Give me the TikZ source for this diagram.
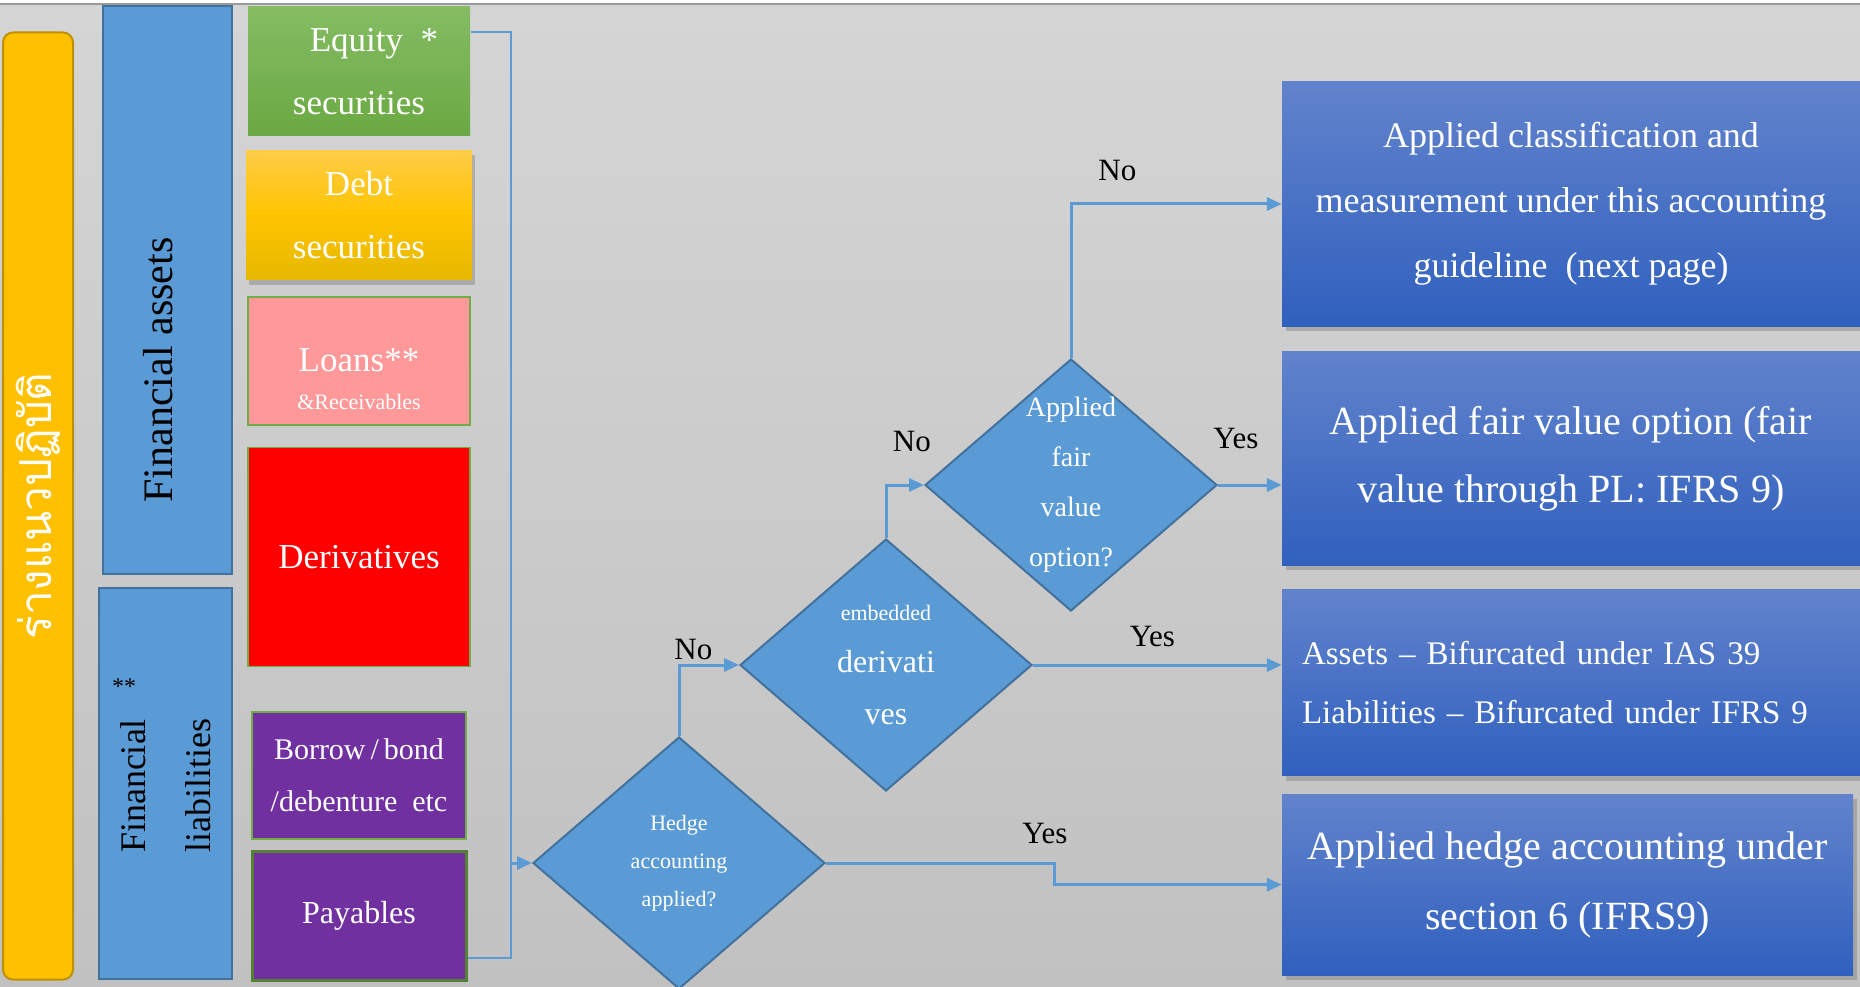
\documentclass[tikz,border=0pt]{standalone}
\usepackage{fontspec}
\setmainfont{Liberation Serif}
\newfontfamily\thaifont[Script=Thai]{Loma}
\usetikzlibrary{shapes.geometric, arrows.meta, positioning, shadows}

\definecolor{bgtop}{RGB}{213,213,213}
\definecolor{bgbot}{RGB}{193,193,193}
\definecolor{thaiyellow}{RGB}{255,192,0}
\definecolor{thaiedge}{RGB}{191,144,0}
\definecolor{catblue}{RGB}{91,155,213}
\definecolor{catedge}{RGB}{65,113,156}
\definecolor{eqtop}{RGB}{133,188,99}
\definecolor{eqbot}{RGB}{106,169,67}
\definecolor{debttop}{RGB}{255,204,72}
\definecolor{debtmid}{RGB}{255,196,0}
\definecolor{debtbot}{RGB}{230,184,0}
\definecolor{loanpink}{RGB}{255,153,153}
\definecolor{boxgreen}{RGB}{112,173,71}
\definecolor{paygreen}{RGB}{84,130,53}
\definecolor{liabpurple}{RGB}{112,48,160}
\definecolor{restop}{RGB}{98,131,204}
\definecolor{resbot}{RGB}{48,96,190}
\definecolor{flowblue}{RGB}{91,155,213}

\begin{document}
\begin{tikzpicture}[x=1pt, y=-1pt,
    catbox/.style={rectangle, draw=catedge, line width=2pt, fill=catblue, inner sep=0pt},
    assetbox/.style={rectangle, draw=boxgreen, line width=1.5pt, minimum width=222pt, text=white, align=center, inner sep=0pt, font=\fontsize{35}{63}\selectfont},
    decision/.style={diamond, draw=catedge, line width=2pt, fill=catblue, minimum width=292pt, minimum height=252pt, inner sep=-30pt, text=white, align=center},
    outcome/.style={rectangle, top color=restop, bottom color=resbot, text=white, align=center, inner sep=0pt, drop shadow={shadow xshift=4pt, shadow yshift=-5pt, opacity=0.45}},
    flow/.style={draw=flowblue, line width=3pt, -{Triangle[length=15pt, width=13pt]}},
    answer/.style={text=black, inner sep=0pt, font=\fontsize{31}{31}\selectfont}]

% Background
\useasboundingbox (0,0) rectangle (1860,987);
\fill [white] (0,0) rectangle (1860,987);
\fill [top color=bgtop, bottom color=bgbot] (0,5) rectangle (1860,987);
\draw [gray!80, line width=1.5pt] (0,4) -- (1860,4);

% Side labels
\node [rectangle, rounded corners=10pt, draw=thaiedge, line width=2pt, fill=thaiyellow, minimum width=947pt, minimum height=70pt, rotate=90, text=white, font=\thaifont\fontsize{44}{44}\selectfont] (draft) at (38,506) {ร่างแนวปฏิบัติ};
\node [catbox, minimum width=129pt, minimum height=568pt] (assets) at (167.5,290) {};
\node [rotate=90, inner sep=0pt, font=\fontsize{42}{42}\selectfont] (assetsname) at (158,370) {Financial assets};
\node [catbox, minimum width=133pt, minimum height=391pt] (liabs) at (165.5,783.5) {};
\node [rotate=90, align=left, inner sep=0pt, font=\fontsize{36}{65}\selectfont] (liabsname) at (166,786) {Financial\\liabilities};
\node [inner sep=0pt, font=\fontsize{24}{24}\selectfont] (liabsnote) at (124,687) {**};

% Instruments
\node [assetbox, draw=none, top color=eqtop, bottom color=eqbot, minimum height=129pt] (equity) at (359,71.5) {\hspace*{30pt}Equity~~*\\securities};
\node [assetbox, draw=none, top color=debttop, bottom color=debtbot, middle color=debtmid, minimum width=226pt, minimum height=129pt, drop shadow={shadow xshift=3pt, shadow yshift=-5pt, opacity=0.45}, below=13pt of equity] (debt) {Debt\\securities};
\node [assetbox, fill=loanpink, minimum height=128pt, below=16pt of debt] (loans) {\rule{0pt}{60pt}Loans**\\[-25pt]{\fontsize{22}{22}\selectfont\&Receivables}};
\node [assetbox, fill=red, minimum height=219pt, below=21pt of loans] (deriv) {Derivatives};
\node [assetbox, fill=liabpurple, minimum width=214pt, minimum height=127pt, below=44pt of deriv, font=\fontsize{30}{52}\selectfont] (borrow) {Borrow\,/\,bond\\/debenture~~etc};
\node [assetbox, draw=paygreen, line width=3pt, fill=liabpurple, minimum width=214pt, minimum height=129pt, below=10pt of borrow, font=\fontsize{32}{32}\selectfont] (payables) {Payables};

% Decisions
\node [decision, font=\fontsize{22}{38}\selectfont] (hedge) at (679,863) {Hedge\\accounting\\applied?};
\node [decision, font=\fontsize{32}{52}\selectfont] (embedded) at (886,665) {{\fontsize{22}{22}\selectfont embedded}\\derivati\\ves};
\node [decision, font=\fontsize{28}{50}\selectfont] (fvo) at (1071,485) {Applied\\fair\\value\\option?};

% Results
\node [outcome, minimum width=578pt, minimum height=244pt, font=\fontsize{36}{65}\selectfont] (classify) at (1571,204) {Applied classification and\\measurement under this accounting\\guideline~~(next page)};
\node [outcome, minimum width=578pt, minimum height=214pt, below=25pt of classify, font=\fontsize{40}{68}\selectfont] (fairvalue) {Applied fair value option (fair\\value through PL: IFRS 9)};
\node [outcome, minimum width=578pt, minimum height=186pt, below=24pt of fairvalue, text width=538pt, align=left, font=\fontsize{33}{59}\selectfont] (bifurcate) {Assets -- Bifurcated under IAS 39\\Liabilities -- Bifurcated under IFRS 9};
\node [outcome, minimum width=571pt, minimum height=181pt, below=18pt of bifurcate.south west, anchor=north west, font=\fontsize{40}{70}\selectfont] (hedgeres) {Applied hedge accounting under\\section 6 (IFRS9)};

% Connectors
\coordinate (brtop) at (511,32);
\coordinate (brbot) at (511,958);
\coordinate (hbend) at (1054,873);
\draw [draw=flowblue, line width=2pt] (equity.east |- brtop) -- (brtop) -- (brbot) -- (payables.east |- brbot);
\draw [flow] (brtop |- hedge.west) -- (hedge.west);
\draw [flow] (hedge.north) |- node [answer, pos=0.62, above=4pt] (nohedge) {No} (embedded.west);
\draw [flow] (embedded.north) |- node [answer, pos=0.84, above=32pt] (noembedded) {No} (fvo.west);
\draw [flow] (fvo.north) |- node [answer, pos=0.61, above=22pt] (nofvo) {No} (classify.west);
\draw [flow] (fvo.east) -- node [answer, pos=0.28, above=35pt] (yesfvo) {Yes} (fvo.east -| fairvalue.west);
\draw [flow] (embedded.east) -- node [answer, pos=0.48, above=17pt] (yesembedded) {Yes} (embedded.east -| bifurcate.west);
\draw [flow] (hedge.east) -| node [answer, pos=0.48, above=18pt] (yeshedge) {Yes} (hbend) |- (hedgeres.west);

\end{tikzpicture}
\end{document}
